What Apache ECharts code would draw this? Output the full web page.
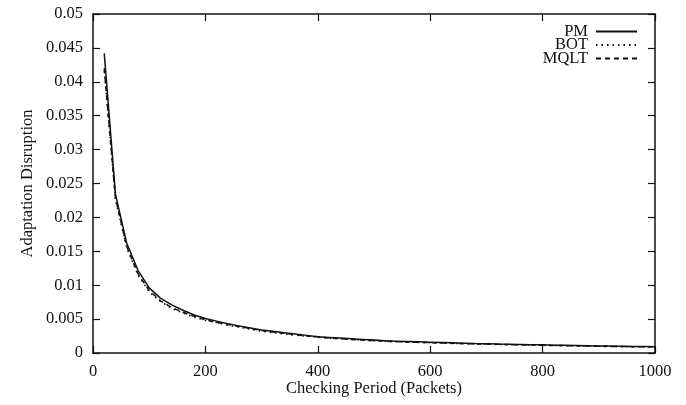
<!DOCTYPE html>
<html>
<head>
<meta charset="utf-8">
<script src="https://cdn.jsdelivr.net/npm/echarts@6/dist/echarts.min.js"></script>
<style>
  html, body { margin: 0; padding: 0; background: #fff; }
  #chart { width: 686px; height: 405px; }
</style>
</head>
<body>
<div id="chart"></div>
<script>
// Checking period (packets)
const periods = [20, 40, 60, 80, 100, 120, 140, 160, 180, 200,
  220, 240, 260, 280, 300, 320, 340, 360, 380, 400,
  420, 440, 460, 480, 500, 520, 540, 560, 580, 600,
  620, 640, 660, 680, 700, 720, 740, 760, 780, 800,
  820, 840, 860, 880, 900, 920, 940, 960, 980, 1000];

// Adaptation disruption per scheme
const pm = [0.0442, 0.0234, 0.0162, 0.0122, 0.0096, 0.0081, 0.0071, 0.0063, 0.0056, 0.0051,
  0.0047, 0.0043, 0.0040, 0.0037, 0.0034, 0.0032, 0.0030, 0.0028, 0.0026, 0.0024,
  0.0023, 0.0022, 0.0021, 0.0020, 0.0019, 0.0018, 0.00175, 0.0017, 0.00165, 0.0016,
  0.00155, 0.0015, 0.00145, 0.0014, 0.00137, 0.00133, 0.0013, 0.00126, 0.00122, 0.0012,
  0.00116, 0.00113, 0.0011, 0.00107, 0.00104, 0.00102, 0.0010, 0.00097, 0.00095, 0.00093];
const bot = [0.0416, 0.0226, 0.0155, 0.0115, 0.0090, 0.0076, 0.0066, 0.0059, 0.0053, 0.0048,
  0.0045, 0.0041, 0.0038, 0.0035, 0.0032, 0.0030, 0.0028, 0.0026, 0.0025, 0.0023,
  0.0022, 0.0021, 0.0020, 0.0019, 0.0018, 0.00172, 0.00166, 0.0016, 0.00155, 0.0015,
  0.00146, 0.00141, 0.00137, 0.00133, 0.0013, 0.00126, 0.00123, 0.0012, 0.00116, 0.00113,
  0.0011, 0.00107, 0.00104, 0.00101, 0.00099, 0.00096, 0.00094, 0.00092, 0.0009, 0.00088];
const mqlt = [0.0420, 0.0228, 0.0157, 0.0117, 0.0092, 0.0077, 0.0067, 0.0060, 0.0054, 0.0049,
  0.0045, 0.0042, 0.0039, 0.0036, 0.0033, 0.0031, 0.0029, 0.0027, 0.0025, 0.0024,
  0.0022, 0.0021, 0.0020, 0.0019, 0.00183, 0.00175, 0.00168, 0.00162, 0.00157, 0.00152,
  0.00148, 0.00143, 0.00139, 0.00135, 0.00131, 0.00128, 0.00124, 0.00121, 0.00118, 0.00115,
  0.00112, 0.00109, 0.00106, 0.00103, 0.001, 0.00098, 0.00096, 0.00094, 0.00092, 0.0009];

const seriesNames = ['PM', 'BOT', 'MQLT'];
const xTitle = 'Checking Period (Packets)';
const yTitle = 'Adaptation Disruption';

const font = 'Liberation Serif';
const ink = '#111';
const fs = 16.5;

const pairs = (ys) => periods.map((p, i) => [p, ys[i]]);

const axisLine = { show: true, onZero: false, lineStyle: { color: ink, width: 1.5 } };
const tickIn = { show: true, inside: true, length: 7, lineStyle: { color: ink, width: 1.2 } };

const chart = echarts.init(document.getElementById('chart'), null, { renderer: 'canvas' });
chart.setOption({
  animation: false,
  backgroundColor: '#fff',
  grid: { left: 93, right: 31, top: 14, bottom: 52, outerBoundsMode: 'none', containLabel: false },
  legend: {
    orient: 'vertical',
    right: 48,
    top: 23,
    align: 'right',
    itemGap: -3.5,
    itemWidth: 41,
    itemHeight: 13,
    padding: 0,
    itemStyle: { color: 'transparent', borderWidth: 0 },
    textStyle: { fontFamily: font, fontSize: fs, color: ink, padding: [0, 3, 0, 0] },
    data: seriesNames
  },
  xAxis: [{
    type: 'value', min: 0, max: 1000, interval: 200,
    axisLine, axisTick: tickIn, splitLine: { show: false },
    axisLabel: { fontFamily: font, fontSize: fs, color: ink, margin: 10, formatter: (v) => String(v) },
    name: xTitle, nameLocation: 'middle', nameGap: 27, nameMoveOverlap: false,
    nameTextStyle: { fontFamily: font, fontSize: fs, color: ink }
  }, {
    type: 'value', position: 'top', min: 0, max: 1000, interval: 200,
    axisLine, axisTick: tickIn, axisLabel: { show: false }, splitLine: { show: false }
  }],
  yAxis: [{
    type: 'value', min: 0, max: 0.05, interval: 0.005,
    axisLine, axisTick: tickIn, splitLine: { show: false },
    axisLabel: { fontFamily: font, fontSize: fs, color: ink, margin: 10 },
    name: yTitle, nameLocation: 'middle', nameGap: 57, nameMoveOverlap: false,
    nameTextStyle: { fontFamily: font, fontSize: fs, color: ink }
  }, {
    type: 'value', position: 'right', min: 0, max: 0.05, interval: 0.005,
    axisLine, axisTick: tickIn, axisLabel: { show: false }, splitLine: { show: false }
  }],
  series: [
    { name: 'PM', type: 'line', data: pairs(pm), showSymbol: false, symbol: 'none',
      lineStyle: { color: ink, width: 1.5, type: 'solid' }, itemStyle: { color: ink }, z: 3 },
    { name: 'BOT', type: 'line', data: pairs(bot), showSymbol: false, symbol: 'none',
      lineStyle: { color: ink, width: 1.5, type: [1.5, 4] }, itemStyle: { color: ink }, z: 2 },
    { name: 'MQLT', type: 'line', data: pairs(mqlt), showSymbol: false, symbol: 'none',
      lineStyle: { color: ink, width: 1.5, type: [5, 4] }, itemStyle: { color: ink }, z: 2 }
  ]
});
</script>
</body>
</html>
